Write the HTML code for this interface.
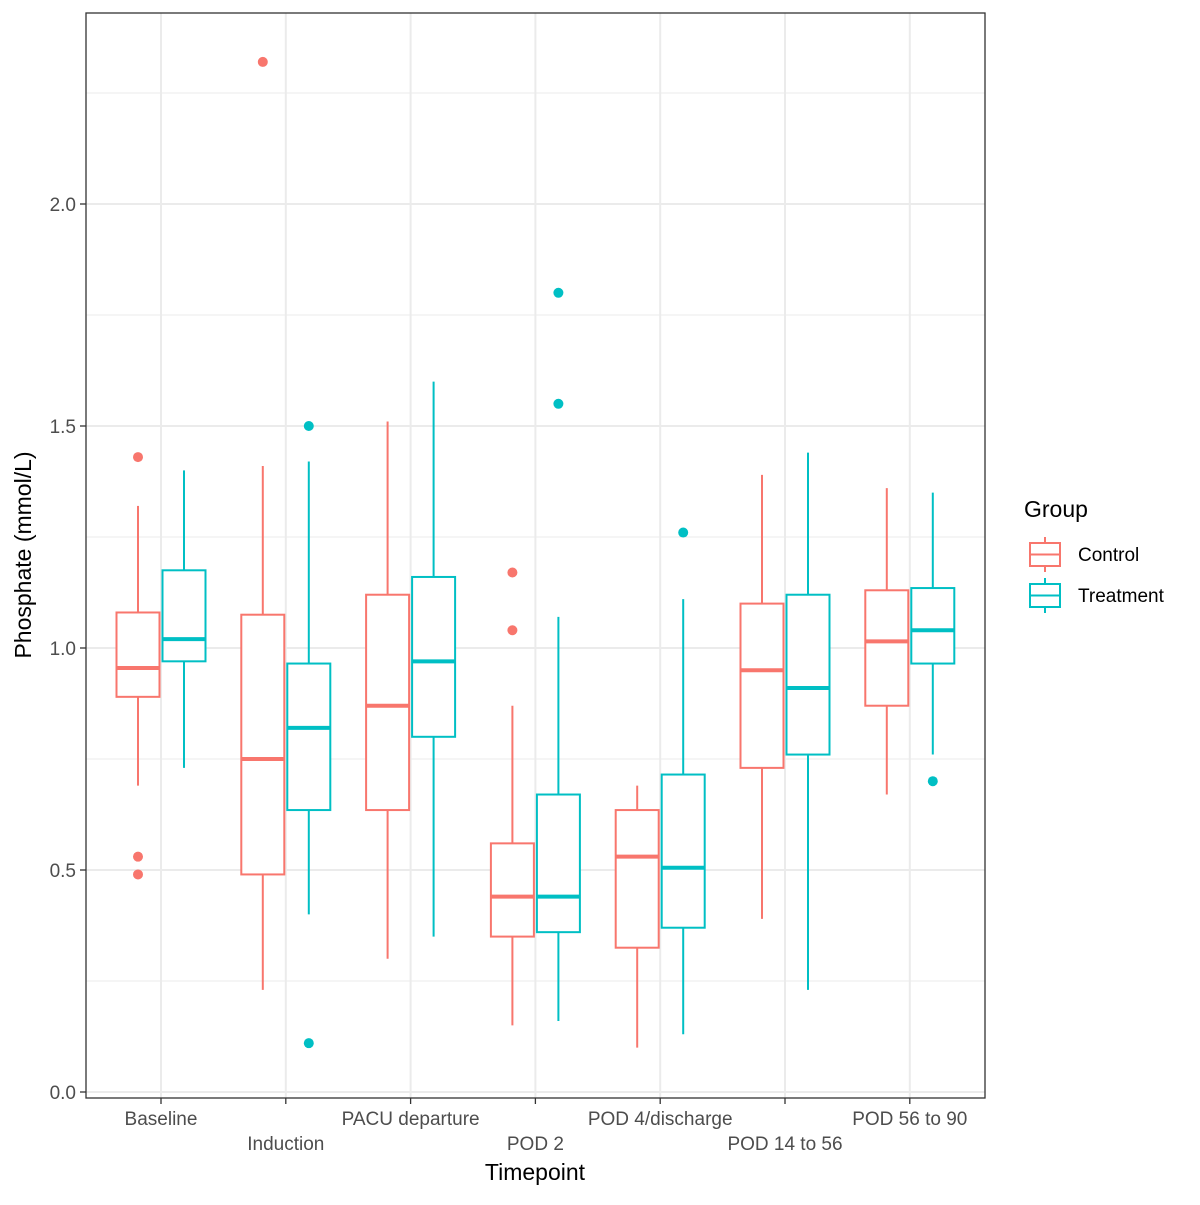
<!DOCTYPE html>
<html><head><meta charset="utf-8"><style>
body{margin:0;background:#fff;}
svg text{font-family:"Liberation Sans",sans-serif;}
</style></head><body>
<svg id="chart" width="1200" height="1200" viewBox="0 0 1200 1200" xmlns="http://www.w3.org/2000/svg">
<rect x="0" y="0" width="1200" height="1200" fill="#fff"/>
<g id="grid"></g>
<g id="boxes"></g>
<rect x="86" y="13" width="899" height="1085" fill="none" stroke="#333" stroke-width="1.3"/>
<g id="axes"></g>
<text x="535" y="1180" font-size="23" text-anchor="middle" fill="#000">Timepoint</text>
<text transform="translate(31,555) rotate(-90)" font-size="23" text-anchor="middle" fill="#000">Phosphate (mmol/L)</text>
<g>
<text x="1024" y="517" font-size="23" fill="#000">Group</text>
<g>
<line x1="1045" y1="537" x2="1045" y2="572" stroke="#F8766D" stroke-width="2"/>
<rect x="1030" y="543" width="30" height="23" fill="#fff" stroke="#F8766D" stroke-width="2"/>
<line x1="1030" y1="554.5" x2="1060" y2="554.5" stroke="#F8766D" stroke-width="2"/>
<text x="1078" y="561" font-size="19" fill="#000">Control</text>
</g>
<g>
<line x1="1045" y1="578" x2="1045" y2="613" stroke="#00BFC4" stroke-width="2"/>
<rect x="1030" y="584" width="30" height="23" fill="#fff" stroke="#00BFC4" stroke-width="2"/>
<line x1="1030" y1="595.5" x2="1060" y2="595.5" stroke="#00BFC4" stroke-width="2"/>
<text x="1078" y="602" font-size="19" fill="#000">Treatment</text>
</g>
</g>
</svg>
<script>
const categories = ["Baseline","Induction","PACU departure","POD 2","POD 4/discharge","POD 14 to 56","POD 56 to 90"];
const yTicks = [0.0,0.5,1.0,1.5,2.0];
const yTickLabels = ["0.0","0.5","1.0","1.5","2.0"];
// [whiskerLow, q1, median, q3, whiskerHigh]
const controlStats = [
 [0.69,0.89,0.955,1.08,1.32],
 [0.23,0.49,0.75,1.075,1.41],
 [0.30,0.635,0.87,1.12,1.51],
 [0.15,0.35,0.44,0.56,0.87],
 [0.10,0.325,0.53,0.635,0.69],
 [0.39,0.73,0.95,1.10,1.39],
 [0.67,0.87,1.015,1.13,1.36]
];
const treatmentStats = [
 [0.73,0.97,1.02,1.175,1.40],
 [0.40,0.635,0.82,0.965,1.42],
 [0.35,0.80,0.97,1.16,1.60],
 [0.16,0.36,0.44,0.67,1.07],
 [0.13,0.37,0.505,0.715,1.11],
 [0.23,0.76,0.91,1.12,1.44],
 [0.76,0.965,1.04,1.135,1.35]
];
const controlOutliers = [[1.43,0.53,0.49],[2.32],[],[1.17,1.04],[],[],[]];
const treatmentOutliers = [[],[1.50,0.11],[],[1.80,1.55],[1.26],[],[0.70]];

const NS="http://www.w3.org/2000/svg";
const panelL=86, panelR=985, panelT=13, panelB=1098;
function yScale(v){return 1092 - v*444;}
function xScale(i){return 161 + i*124.8;}
function mk(tag, attrs, parent){const e=document.createElementNS(NS,tag);for(const k in attrs)e.setAttribute(k,attrs[k]);parent.appendChild(e);return e;}
const grid=document.getElementById('grid'), boxes=document.getElementById('boxes'), axes=document.getElementById('axes');
// minor grid
for(let v=0.25; v<2.5; v+=0.5){
 const l=mk('line',{x1:panelL,x2:panelR,y1:yScale(v),y2:yScale(v),stroke:'#ebebeb','stroke-width':1},grid);
 
 
}
yTicks.forEach((v,i)=>{
 const l=mk('line',{x1:panelL,x2:panelR,y1:yScale(v),y2:yScale(v),stroke:'#ebebeb','stroke-width':2},grid);
 
 
 const t=mk('line',{x1:panelL-6,x2:panelL,y1:yScale(v),y2:yScale(v),stroke:'#333','stroke-width':1.3},axes);
 
 
 const tx=mk('text',{x:panelL-10,y:yScale(v)+7,'font-size':19,'text-anchor':'end',fill:'#4d4d4d'},axes);
 tx.textContent=yTickLabels[i];
 
 
});
categories.forEach((c,i)=>{
 const x=xScale(i);
 const g=mk('line',{x1:x,x2:x,y1:panelT,y2:panelB,stroke:'#ebebeb','stroke-width':2},grid);
 
 
 const t=mk('line',{x1:x,x2:x,y1:panelB,y2:panelB+6,stroke:'#333','stroke-width':1.3},axes);
 
 
 const tx=mk('text',{x:x,y:(i%2===0)?1125:1150,'font-size':19,'text-anchor':'middle',fill:'#4d4d4d'},axes);
 tx.textContent=c;
 
 
});
function drawBox(s, outs, cx, color, name){
 const g=mk('g',{},boxes);
 
 
 const hw=21.5;
 mk('line',{x1:cx,x2:cx,y1:yScale(s[4]),y2:yScale(s[3]),stroke:color,'stroke-width':2},g);
 mk('line',{x1:cx,x2:cx,y1:yScale(s[1]),y2:yScale(s[0]),stroke:color,'stroke-width':2},g);
 mk('rect',{x:cx-hw,y:yScale(s[3]),width:hw*2,height:yScale(s[1])-yScale(s[3]),fill:'#fff',stroke:color,'stroke-width':2},g);
 mk('line',{x1:cx-hw,x2:cx+hw,y1:yScale(s[2]),y2:yScale(s[2]),stroke:color,'stroke-width':4},g);
 outs.forEach(o=>{
  const c=mk('circle',{cx:cx,cy:yScale(o),r:5,fill:color},boxes);
  
  
 });
}
categories.forEach((c,i)=>{
 drawBox(controlStats[i],controlOutliers[i],xScale(i)-23,'#F8766D','box-control');
 drawBox(treatmentStats[i],treatmentOutliers[i],xScale(i)+23,'#00BFC4','box-treatment');
});
</script>
</body></html>
